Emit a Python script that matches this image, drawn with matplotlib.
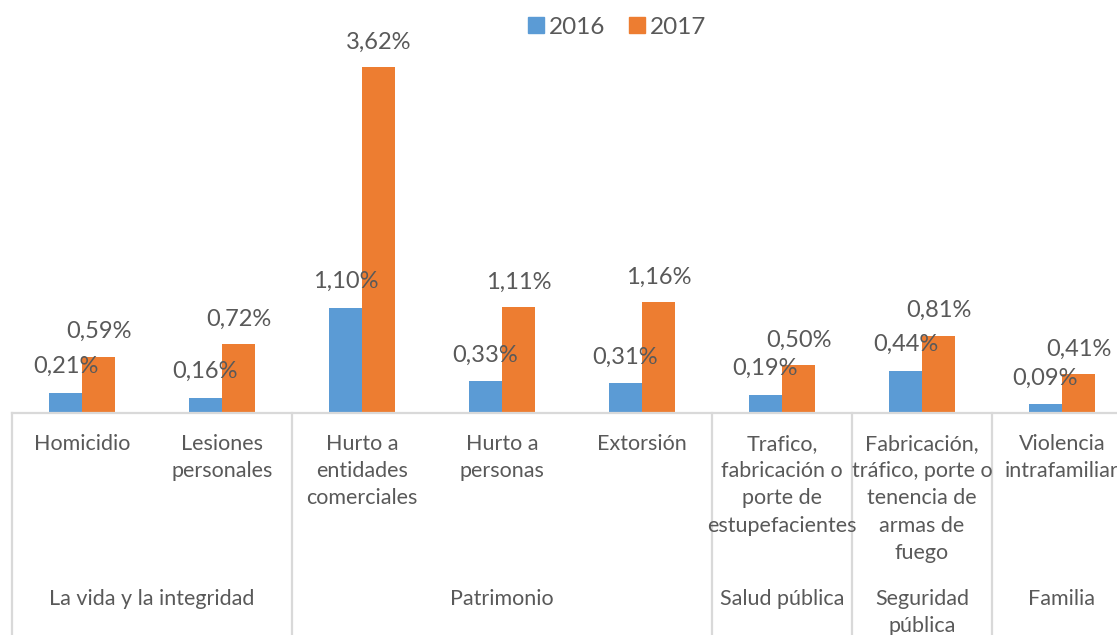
import matplotlib
matplotlib.use("Agg")
import matplotlib.pyplot as plt
from matplotlib.patches import Patch

plt.rcParams['font.family'] = ['Lato', 'DejaVu Sans']

categorias = ["Homicidio", "Lesiones\npersonales", "Hurto a\nentidades\ncomerciales",
              "Hurto a\npersonas", "Extorsión", "Trafico,\nfabricación o\nporte de\nestupefacientes",
              "Fabricación,\ntráfico, porte o\ntenencia de\narmas de\nfuego",
              "Violencia\nintrafamiliar"]
grupos = ["La vida y la integridad", "Patrimonio", "Salud pública", "Seguridad\npública", "Familia"]
grupo_inicio = [0, 2, 5, 6, 7]
grupo_fin = [2, 5, 6, 7, 8]
v2016 = [0.21, 0.16, 1.10, 0.33, 0.31, 0.19, 0.44, 0.09]
v2017 = [0.59, 0.72, 3.62, 1.11, 1.16, 0.50, 0.81, 0.41]

azul = '#5B9BD5'
naranja = '#ED7D31'
gris = '#595959'
linea = '#D9D9D9'

W, H = 1117, 635
fig = plt.figure(figsize=(W / 100, H / 100), dpi=100)
base_px = 413
alto_px = 382
ax = fig.add_axes([12 / W, (H - base_px) / H, 1120 / W, alto_px / H])
ax.set_xlim(0, 8)
ax.set_ylim(0, 4.0)
ax.axis('off')

ancho = 0.236
x = [i + 0.5 for i in range(len(categorias))]
ax.bar([xi - ancho / 2 for xi in x], v2016, ancho, color=azul)
ax.bar([xi + ancho / 2 for xi in x], v2017, ancho, color=naranja)

fs = 15.5
for xi, a, b in zip(x, v2016, v2017):
    ax.annotate(f"{a:.2f}%".replace('.', ','), (xi - ancho / 2, a), xytext=(0, 19),
                textcoords='offset points', ha='center', va='center', fontsize=fs + 1.5, color=gris)
    ax.annotate(f"{b:.2f}%".replace('.', ','), (xi + ancho / 2, b), xytext=(0, 18),
                textcoords='offset points', ha='center', va='center', fontsize=fs + 1.5, color=gris)

ax.axhline(0, color=linea, lw=1.6, clip_on=False)

tr = ax.get_xaxis_transform()
for xi, c in zip(x, categorias):
    ax.text(xi, -21 / alto_px, c, transform=tr, ha='center', va='top', fontsize=fs,
            color=gris, linespacing=1.45, clip_on=False)

for ini, fin, g in zip(grupo_inicio, grupo_fin, grupos):
    ax.text((ini + fin) / 2, -176 / alto_px, g, transform=tr, ha='center', va='top',
            fontsize=fs, color=gris, linespacing=1.45, clip_on=False)
    ax.plot([ini, ini], [0, -230 / alto_px], transform=tr, color=linea, lw=1.6, clip_on=False)

handles = [Patch(color=azul, label='2016'), Patch(color=naranja, label='2017')]
fig.legend(handles=handles, loc='center', bbox_to_anchor=(617 / W, 1 - 27 / H), ncol=2,
           frameon=False, fontsize=fs + 2, handlelength=0.65, handleheight=0.65,
           handletextpad=0.2, columnspacing=1.0, labelcolor=gris)

fig.savefig('out.png', dpi=100)
